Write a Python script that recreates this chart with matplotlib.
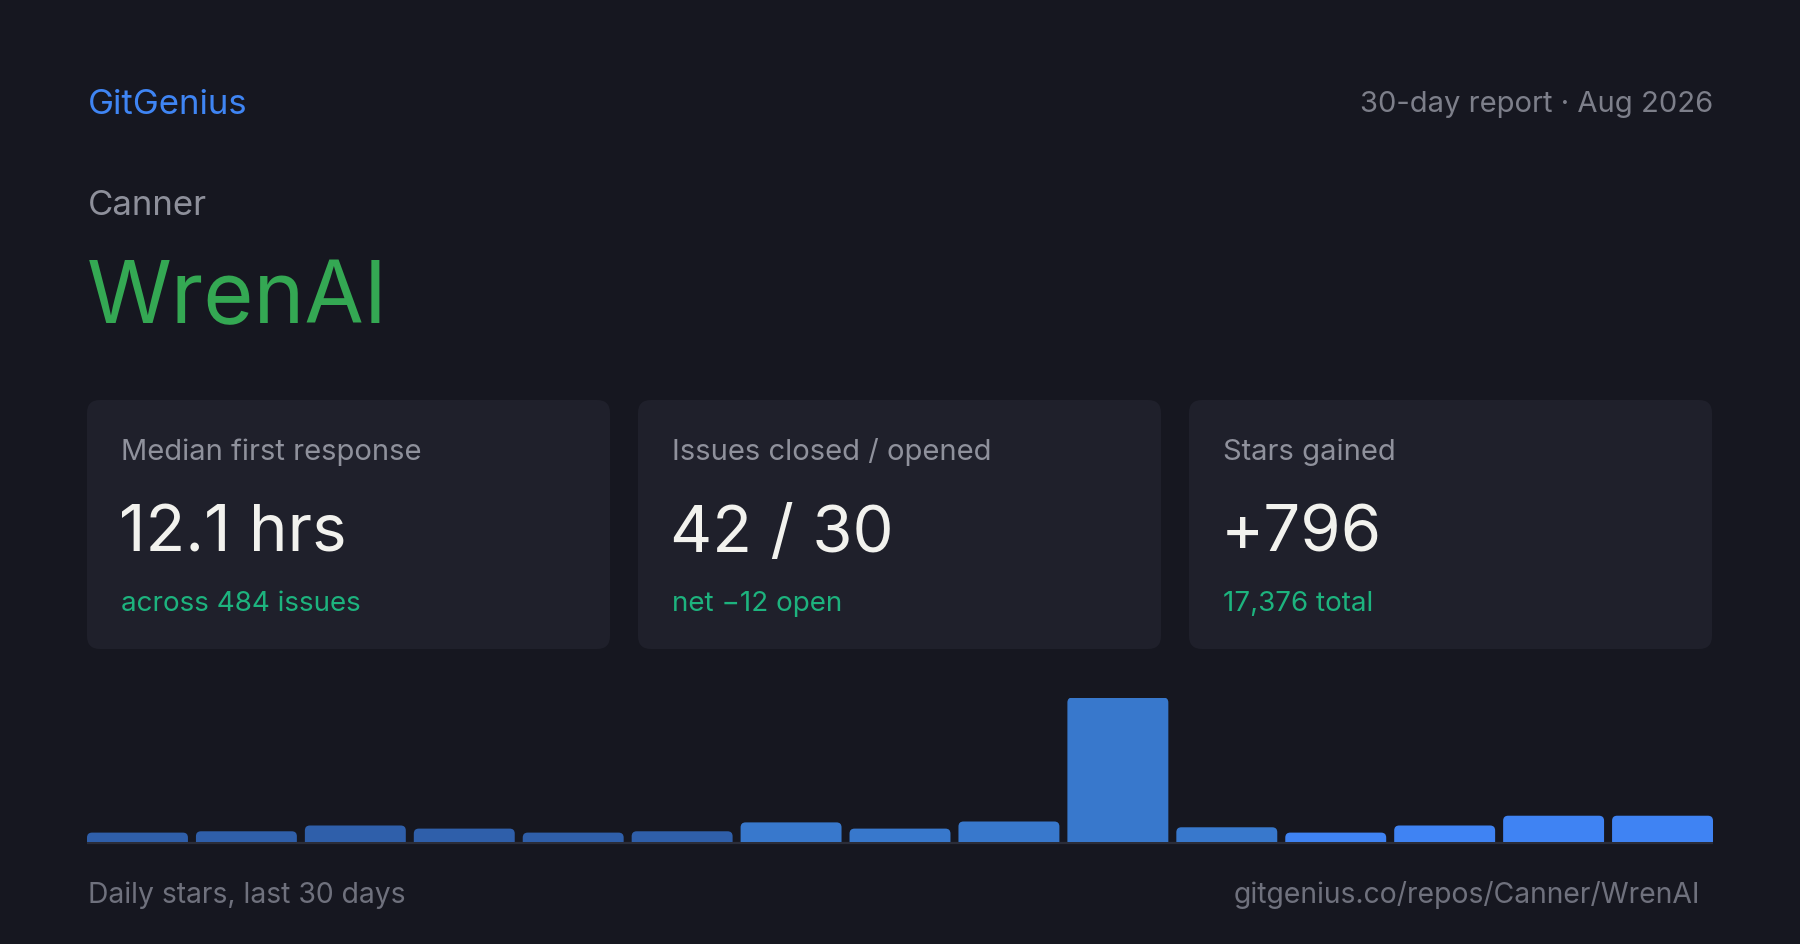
import matplotlib
matplotlib.use("Agg")
import matplotlib.pyplot as plt
from matplotlib.patches import FancyBboxPatch

# data
brand = "GitGenius"
period = "30-day report \u00b7 Aug 2026"
owner = "Canner"
repo = "WrenAI"
card_labels = ["Median first response", "Issues closed / opened", "Stars gained"]
card_values = ["12.1 hrs", "42 / 30", "+796"]
card_notes = ["across 484 issues", "net \u221212 open", "17,376 total"]
daily_stars = [20, 23, 36, 29, 20, 23, 43, 29, 45, 324, 32, 20, 36, 58, 58]
footer_left = "Daily stars, last 30 days"
footer_right = "gitgenius.co/repos/Canner/WrenAI"

bg = "#161720"
card_bg = "#1f202b"
bar_colors = ["#2f5faa"] * 6 + ["#3878cc"] * 5 + ["#3f83f3"] * 4

plt.rcParams["font.family"] = ["Inter", "DejaVu Sans"]

W, H = 1800, 945
fig = plt.figure(figsize=(W / 100, H / 100), dpi=100, facecolor=bg)

# pixel-space axes for the layout
ax = fig.add_axes([0, 0, 1, 1])
ax.set_xlim(0, W)
ax.set_ylim(H, 0)
ax.axis("off")
ax.set_facecolor(bg)

ax.text(88, 114, brand, fontsize=25, color="#3f85f4")
ax.text(1713, 112, period, fontsize=21, color="#7d7f8a", ha="right")
ax.text(88, 215, owner, fontsize=25, color="#8e909b")
ax.text(87, 323, repo, fontsize=62, color="#34a853")

card_w, gap = 523, 28
for i in range(3):
    x0 = 87 + i * (card_w + gap)
    ax.add_patch(FancyBboxPatch((x0, 401), card_w, 249,
                                boxstyle="round,pad=0,rounding_size=13",
                                fc=card_bg, ec="none"))
    ax.text(x0 + 34, 460, card_labels[i], fontsize=21, color="#8f919c")
    ax.text(x0 + 32, 552, card_values[i], fontsize=47, color="#f2f2ee")
    ax.text(x0 + 34, 611, card_notes[i], fontsize=20, color="#1db37e")

# baseline under bars
ax.plot([87, 1713], [843.5, 843.5], color="#2b2d39", lw=1.6, solid_capstyle="butt")

ax.text(88, 903, footer_left, fontsize=20.4, color="#6f717d")
ax.text(1700, 903, footer_right, fontsize=20.4, color="#6f717d", ha="right")

# bar chart axes
bx0, bx1, by0, by1 = 87, 1713, 842.5, 698.5
bax = fig.add_axes([bx0 / W, (H - by0) / H, (bx1 - bx0) / W, (by0 - by1) / H])
n = len(daily_stars)
bar_px = (bx1 - bx0 - 8 * (n - 1)) / n
pitch = bar_px + 8
bw = bar_px / pitch
bax.set_xlim(-bw / 2, n - 1 + bw / 2)
bax.set_ylim(0, max(daily_stars))
bax.axis("off")
bax.patch.set_alpha(0)

bars = bax.bar(range(n), daily_stars, width=bw, color=bar_colors)
# swap plain rectangles for ones with rounded tops
ux = (n - 1 + bw) / (bx1 - bx0)
uy = max(daily_stars) / (by0 - by1)
r = 5
for rect in bars:
    x, w, h = rect.get_x(), rect.get_width(), rect.get_height()
    rect.set_visible(False)
    bax.add_patch(FancyBboxPatch((x, -r * uy), w, h + r * uy,
                                 boxstyle=f"round,pad=0,rounding_size={r * ux}",
                                 mutation_aspect=uy / ux,
                                 fc=rect.get_facecolor(), ec="none",
                                 clip_on=True))

fig.savefig("out.png", dpi=100, facecolor=bg)
